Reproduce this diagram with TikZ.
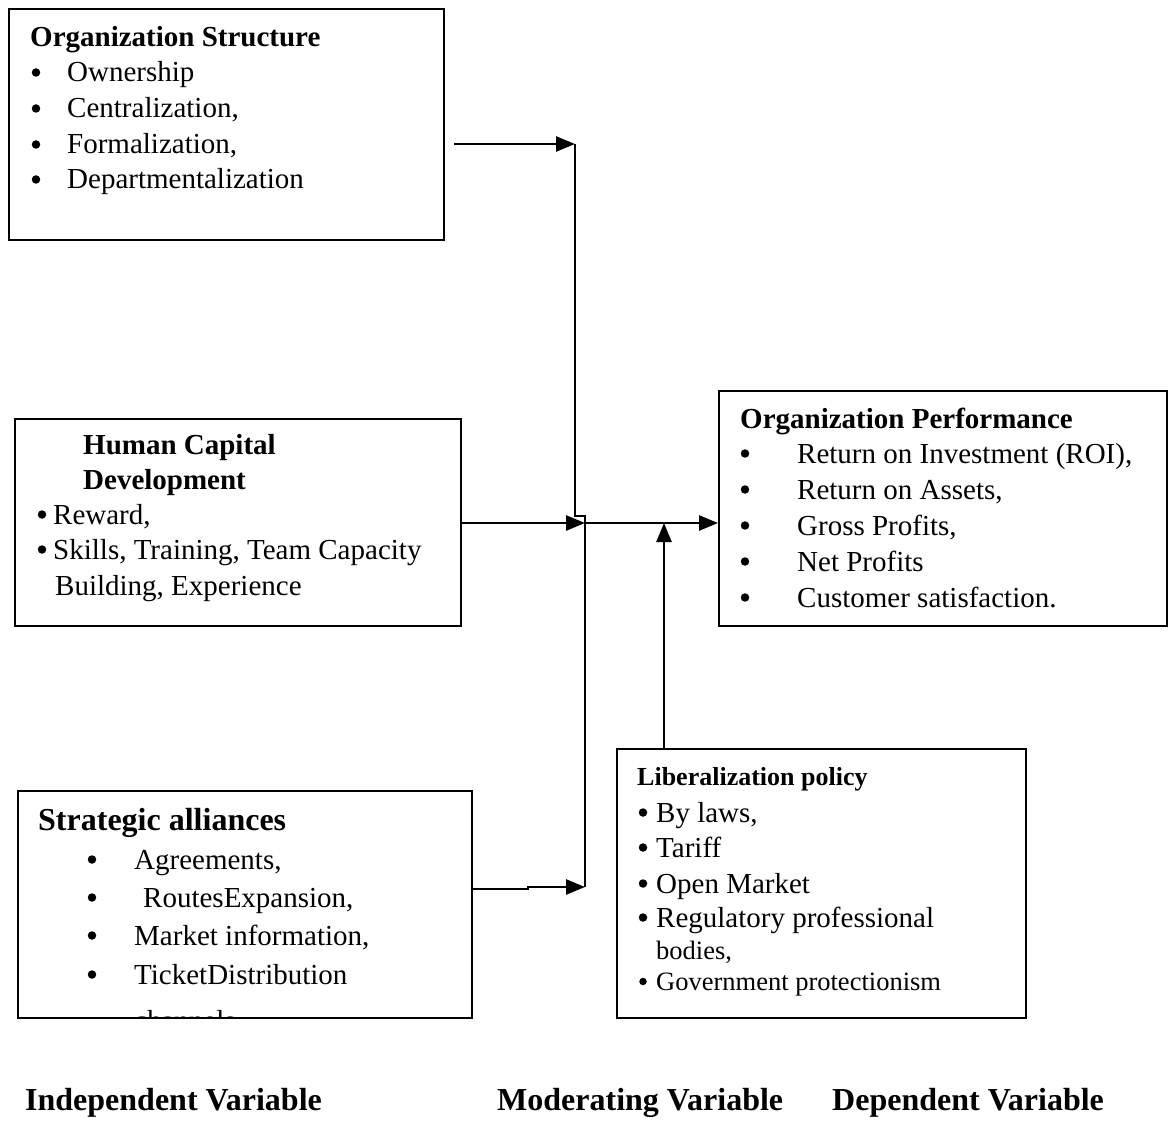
\documentclass[tikz,border=0pt]{standalone}
\usepackage{fontspec}
\setmainfont{Liberation Serif}
\usetikzlibrary{arrows.meta,calc}
% one bulleted line: name, bullet x, text x, baseline y, text
\newcommand{\bitem}[5]{%
  \node[dot] (#1-b) at (#2,#4-9.5) {};
  \node[txt] (#1) at (#3,#4) {#5};}
\begin{document}
\begin{tikzpicture}[x=1pt,y=-1pt,
  box/.style={draw,line width=1.8pt,rectangle,inner sep=0pt,anchor=north west},
  conn/.style={line width=2.6pt,line join=miter},
  arr/.style={conn,-{Triangle[length=19pt,width=15pt]}},
  txt/.style={anchor=base west,inner sep=0pt,font=\fontsize{29}{36}\selectfont},
  head/.style={txt,font=\fontsize{29}{36}\selectfont\bfseries},
  bighead/.style={txt,font=\fontsize{32}{38}\selectfont\bfseries},
  lphead/.style={txt,font=\fontsize{26}{32}\selectfont\bfseries},
  small/.style={txt,font=\fontsize{26.5}{32}\selectfont},
  dot/.style={circle,fill=black,inner sep=0pt,minimum size=8.5pt},
]
\useasboundingbox (0,0) rectangle (1168,1142);

% boxes
\node[box,minimum width=435pt,minimum height=231pt] (os)  at (8,8) {};
\node[box,minimum width=446pt,minimum height=207pt] (hcd) at (14,418) {};
\node[box,minimum width=448pt,minimum height=235pt] (op)  at (718,390) {};
\node[box,minimum width=454pt,minimum height=227pt] (sa)  at (17,790) {};
\node[box,minimum width=409pt,minimum height=269pt] (lp)  at (616,748) {};

% Organization Structure
\node[head] (os-h) at (30,47) {Organization Structure};
\bitem{os-1}{36}{67}{82}{Ownership}
\bitem{os-2}{36}{67}{118}{Centralization,}
\bitem{os-3}{36}{67}{154}{Formalization,}
\bitem{os-4}{36}{67}{189}{Departmentalization}

% Human Capital Development
\node[head] (hcd-h1) at (83,454) {Human Capital};
\node[head] (hcd-h2) at (83,489) {Development};
\bitem{hcd-1}{42}{53}{524}{Reward,}
\bitem{hcd-2}{42}{53}{559}{Skills, Training, Team Capacity}
\node[txt] (hcd-3) at (55,595) {Building, Experience};

% Organization Performance
\node[head] (op-h) at (740,428) {Organization Performance};
\bitem{op-1}{745}{797}{463}{Return on Investment (ROI),}
\bitem{op-2}{745}{797}{499}{Return on Assets,}
\bitem{op-3}{745}{797}{535}{Gross Profits,}
\bitem{op-4}{745}{797}{571}{Net Profits}
\bitem{op-5}{745}{797}{607}{Customer satisfaction.}

% Strategic alliances (last line runs past the frame and is cut off)
\node[bighead] (sa-h) at (38,830) {Strategic alliances};
\bitem{sa-1}{92}{134}{869}{Agreements,}
\bitem{sa-2}{92}{143}{907}{RoutesExpansion,}
\bitem{sa-3}{92}{134}{945}{Market information,}
\bitem{sa-4}{92}{134}{984}{TicketDistribution}
\begin{scope}
  \clip (sa.north west) rectangle (sa.south east);
  \node[txt] (sa-5) at (134,1030) {channels};
\end{scope}

% Liberalization policy
\node[lphead] (lp-h) at (637,785) {Liberalization policy};
\bitem{lp-1}{643}{656}{822}{By laws,}
\bitem{lp-2}{643}{656}{857}{Tariff}
\bitem{lp-3}{643}{656}{893}{Open Market}
\bitem{lp-4}{643}{656}{927}{Regulatory professional}
\node[small] (lp-5) at (656,959) {bodies,};
\node[dot,minimum size=7.5pt] (lp-6-b) at (643,981.5) {};
\node[small] (lp-6) at (656,990) {Government protectionism};

% variable labels
\node[bighead] (lab-iv) at (25,1110) {Independent Variable};
\node[bighead] (lab-mv) at (497,1110) {Moderating Variable};
\node[bighead] (lab-dv) at (832,1110) {Dependent Variable};

% connector points
\coordinate (tA)   at (575,144);
\coordinate (bend) at (575,516);
\coordinate (jx)   at (585,516);
\coordinate (hub)  at (585,523);
\coordinate (sbot) at (585,887);
\coordinate (sstep) at (528,887);
\coordinate (lpin) at (664,523);

% connectors
\draw[arr] ($(os.east |- tA)+(9,0)$) -- (tA);
\draw[conn] (tA) -- (bend) -- (jx) -- (sbot);
\draw[arr] (hcd.east |- hub) -- (hub);
\draw[arr] (hub) -- (op.west |- hub);
\draw[arr] (lp.north -| lpin) -- (lpin);
\draw[arr] ($(sa.east |- sstep)+(0,2)$) -- ($(sstep)+(0,2)$) -- (sstep) -- (sbot);
\end{tikzpicture}
\end{document}
